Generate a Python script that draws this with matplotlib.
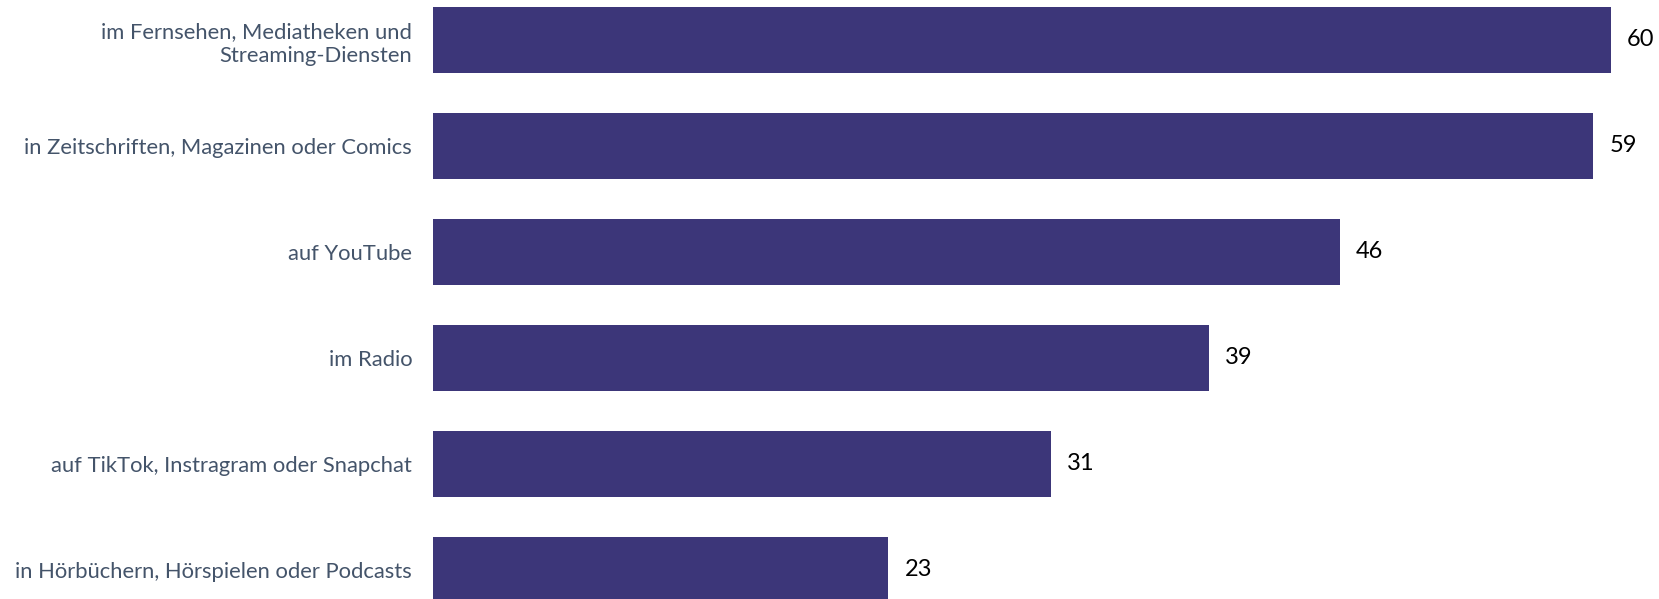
import matplotlib.pyplot as plt

categories = ['im Fernsehen, Mediatheken und\nStreaming-Diensten',
              'in Zeitschriften, Magazinen oder Comics',
              'auf YouTube',
              'im Radio',
              'auf TikTok, Instragram oder Snapchat',
              'in Hörbüchern, Hörspielen oder Podcasts']
# bar lengths as measured; labels as printed in the chart
values = [60.0, 59.1, 46.2, 39.5, 31.5, 23.2]
labels = ['60', '59', '46', '39', '31', '23']

bar_color = '#3C3679'
text_color = '#44546A'

plt.rcParams['font.family'] = ['Lato', 'DejaVu Sans']

fig = plt.figure(figsize=(16.59, 5.99), dpi=100)
ax = fig.add_axes([433 / 1659, 0, 1 - 433 / 1659, 1])

pos = list(range(len(categories)))
ax.barh(pos, values, height=0.623, color=bar_color)

for p, v, t in zip(pos, values, labels):
    ax.annotate(t, (v, p), xytext=(11.5, 0), textcoords='offset points',
                ha='left', va='center', fontsize=17, color='black')

ax.set_yticks(pos)
ax.set_yticklabels(categories, fontsize=15.8, color=text_color, linespacing=1.25)
ax.tick_params(axis='y', length=0, pad=15)
ax.set_xticks([])
ax.set_xlim(0, 1226 / 19.633)
ax.set_ylim(-0.377 + 599 / 106, -0.377)
for s in ax.spines.values():
    s.set_visible(False)

fig.savefig('out.png', dpi=100)
